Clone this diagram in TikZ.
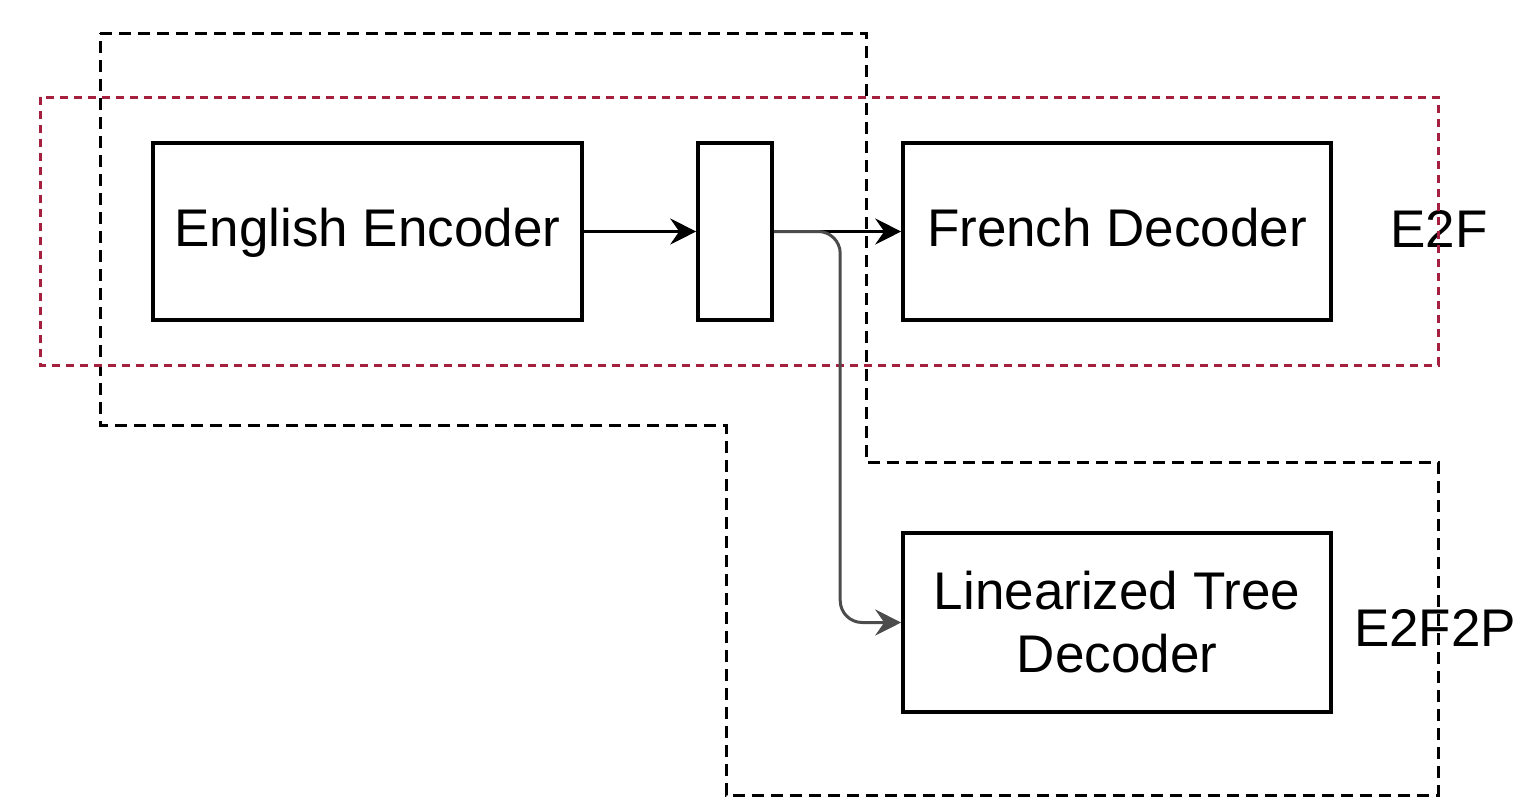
\documentclass[tikz,border=0pt]{standalone}
\usepackage{fontspec}
\setmainfont{Liberation Sans}
\usetikzlibrary{positioning, arrows.meta}
\definecolor{groupred}{RGB}{165,32,62}

\begin{document}
\begin{tikzpicture}[x=0.5pt, y=-0.5pt,
        block/.style={draw, line width=1.8pt, inner sep=0pt, align=center, font=\fontsize{26.5}{31.5}\selectfont},
        oneline/.style={text height=19.5pt, text depth=5pt},
        tag/.style={inner sep=0pt, oneline, font=\fontsize{26.5}{31.5}\selectfont},
        link/.style={line width=1.5pt, -{Stealth[length=13pt, width=13pt, inset=4.5pt]}},
        group/.style={line width=1.5pt, dash pattern=on 6pt off 3.5pt}]
    \useasboundingbox (0,0) rectangle (1514,798);

    \node[block, oneline, minimum width=214.5pt, minimum height=88.5pt] (enc) at (367.5,231.5) {English Encoder};
    \node[block, minimum width=37pt, minimum height=88.5pt] (ctx) at (735,231.5) {};
    \node[block, oneline, minimum width=214pt, minimum height=88.5pt] (fre) at (1117,231.5) {French Decoder};
    \node[block, minimum width=214pt, minimum height=89.5pt] (ltd) at (1117,622.5) {Linearized Tree\\Decoder};

    \node[tag] (e2f) at (1439,233) {E2F};
    \node[tag] (e2f2p) at (1435,632) {E2F2P};

    % task groups
    \draw[group] (100,33) -- (866,33) -- (866,462) -- (1438,462) -- (1438,795) -- (726,795) -- (726,425) -- (100,425) -- cycle;
    \draw[group, groupred, dash pattern=on 4pt off 3pt] (40,97) rectangle (1438,365);

    % Draw edges
    \draw[link] (enc) -- (ctx);
    \draw[link] (ctx) -- (fre);
    \draw[link, black!70, rounded corners=11pt] (ctx.east) -| ([xshift=-30.5pt]ltd.west) -- (ltd.west);
\end{tikzpicture}
\end{document}
